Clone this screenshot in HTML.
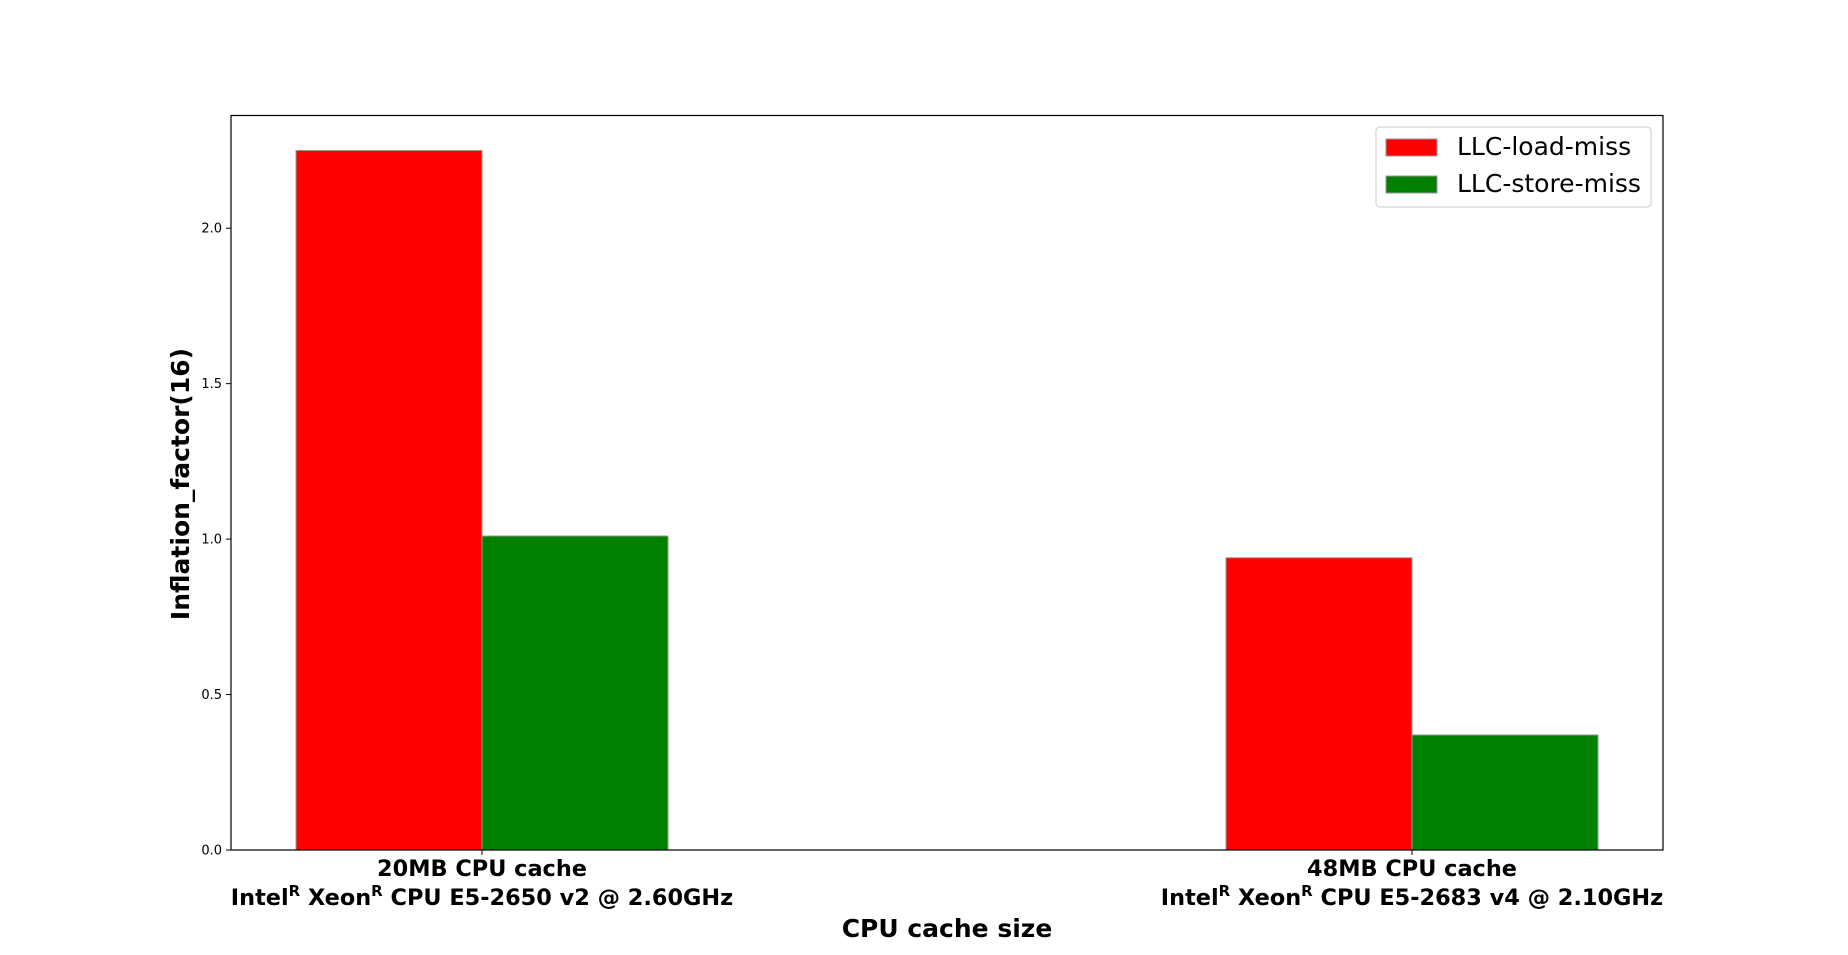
<!DOCTYPE html>
<html><head><meta charset="utf-8"><style>
html,body{margin:0;padding:0;background:#fff;}
svg{display:block;font-family:"DejaVu Sans","Liberation Sans",sans-serif;}
</style></head><body>
<svg id="chart" width="1848" height="955" xmlns="http://www.w3.org/2000/svg">
<rect width="1848" height="955" fill="#fff"/>
<g id="plot"></g>
<script>
const categories = ["20MB CPU cache", "48MB CPU cache"];
const cpuNames = ["CPU E5-2650 v2 @ 2.60GHz", "CPU E5-2683 v4 @ 2.10GHz"];
const loadMiss = [2.25, 0.94];
const storeMiss = [1.01, 0.37];
const yTicks = [0.0, 0.5, 1.0, 1.5, 2.0];
const seriesNames = ["LLC-load-miss", "LLC-store-miss"];
const seriesColors = ["#ff0000", "#008000"];

const NS = "http://www.w3.org/2000/svg";
const L = 231, R = 1663, T = 115.5, B = 850;
const yMax = 2.3625;
const x0 = 482, xUnit = 930;
const xs = i => x0 + i * xUnit;
const ys = v => B - v / yMax * (B - T);
const g = document.getElementById('plot');
function mk(tag, attrs, text, parent) {
  const e = document.createElementNS(NS, tag);
  for (const k in attrs) e.setAttribute(k, attrs[k]);
  if (text !== undefined) e.textContent = text;
  (parent || g).appendChild(e);
  return e;
}
const bw = 0.2 * xUnit;
[loadMiss, storeMiss].forEach((series, s) => {
  series.forEach((v, i) => {
    const xl = xs(i) + (s === 0 ? -bw : 0);
    const r = mk('rect', {x: xl, y: ys(v), width: bw, height: B - ys(v), fill: seriesColors[s], stroke: '#999', 'stroke-width': 1});
    
    
  });
});
const frame = mk('rect', {x: L, y: T, width: R - L, height: B - T, fill: 'none', stroke: '#000', 'stroke-width': 1.2});


yTicks.forEach(t => {
  const y = ys(t);
  const tk = mk('line', {x1: L - 5, x2: L, y1: y, y2: y, stroke: '#000', 'stroke-width': 1});
  
  
  const lb = mk('text', {x: L - 9, y: y + 4.5, 'text-anchor': 'end', 'font-size': 13, fill: '#000'}, t.toFixed(1));
  
  
});
categories.forEach((c, i) => {
  const x = xs(i);
  const tk = mk('line', {x1: x, x2: x, y1: B, y2: B + 5, stroke: '#000', 'stroke-width': 1});
  
  
  const l1 = mk('text', {x: x, y: 876, 'text-anchor': 'middle', 'font-size': 22.4, 'font-weight': 'bold'}, c);
  
  
  const l2 = mk('text', {x: x, y: 905, 'text-anchor': 'middle', 'font-size': 22.4, 'font-weight': 'bold'});
  
  
  mk('tspan', {}, 'Intel', l2);
  mk('tspan', {dy: -9, 'font-size': 15}, 'R', l2);
  mk('tspan', {dy: 9}, ' Xeon', l2);
  mk('tspan', {dy: -9, 'font-size': 15}, 'R', l2);
  mk('tspan', {dy: 9}, ' ' + cpuNames[i], l2);
});
const xl = mk('text', {x: 947, y: 937, 'text-anchor': 'middle', 'font-size': 25, 'font-weight': 'bold'}, 'CPU cache size');


const yl = mk('text', {x: 0, y: 0, 'text-anchor': 'middle', 'font-size': 25, 'font-weight': 'bold', transform: 'translate(189,484) rotate(-90)'}, 'Inflation_factor(16)');


const lg = mk('rect', {x: 1376, y: 127, width: 275, height: 80, rx: 4, fill: '#fff', 'fill-opacity': 0.8, stroke: '#ccc', 'stroke-width': 1});


seriesNames.forEach((n, s) => {
  const y = 147 + s * 37;
  const p = mk('rect', {x: 1386, y: y - 8, width: 51, height: 17, fill: seriesColors[s], stroke: '#999', 'stroke-width': 1});
  
  
  const t = mk('text', {x: 1457, y: y + 8, 'font-size': 25}, n);
  
  
});
</script>
</svg>
</body></html>
